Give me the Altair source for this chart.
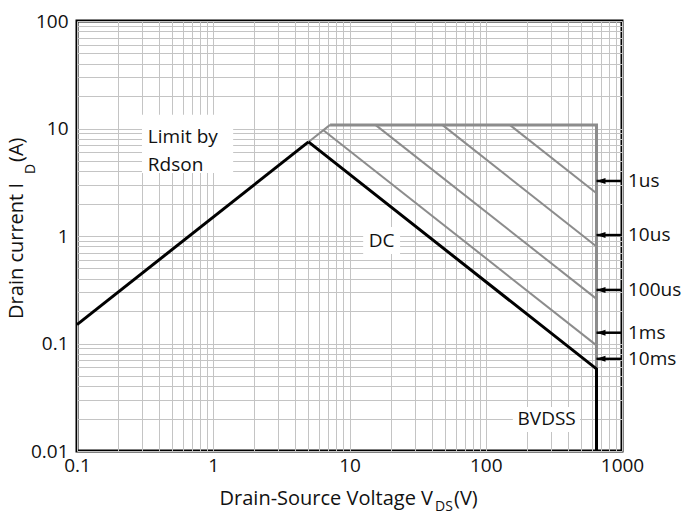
import altair as alt
import pandas as pd

FONT = "Open Sans"
TXT = "#111111"
GRAY = "#8c8c8c"

# ---- data ----
x_ticks = [0.1, 1, 10, 100, 1000]
y_ticks = [0.01, 0.1, 1, 10, 100]

# Rdson limit (black part then gray continuation)
rdson_v = [0.1, 5.0]
rdson_i = [0.15, 7.5]
rdson_gray_v = [5.0, 7.2]
rdson_gray_i = [7.5, 10.8]

# current limit / BVDSS envelope (gray, thick)
env_v = [7.2, 650, 650]
env_i = [10.8, 10.8, 0.058]

# pulse lines
pulse_names = ["1us", "10us", "100us", "1ms"]
pulse_start_v = [150, 48, 15.5, 6.4]
pulse_start_i = [10.8, 10.8, 10.8, 9.7]
pulse_end_v = [650, 650, 650, 650]
pulse_end_i = [2.5, 0.8, 0.26, 0.096]

# DC line and BVDSS drop (black)
dc_v = [5.0, 650, 650]
dc_i = [7.5, 0.058, 0.01]

# right-side arrows & labels
arrow_names = ["1us", "10us", "100us", "1ms", "10ms"]
arrow_i = [3.25, 1.02, 0.315, 0.126, 0.072]
bvdss_v = 650
frame_v = 1000

# in-plot labels
lbl_text = ["Limit by", "Rdson", "DC", "BVDSS"]
lbl_v = [0.331, 0.331, 17.2, 280]
lbl_i = [8.3, 4.55, 0.90, 0.0199]
lbl_align = ["left", "left", "center", "center"]
# white boxes behind labels
box_v1 = [0.30, 12.6, 158]
box_v2 = [1.40, 23.5, 492]
box_i1 = [3.86, 0.68, 0.015]
box_i2 = [13.4, 1.21, 0.0257]

# ---- tables ----
black_rows = [("black_main", v, i) for v, i in zip(rdson_v, rdson_i)]
black_rows += [("black_dc", v, i) for v, i in zip(dc_v, dc_i)]
gray_rows = [("rg", v, i) for v, i in zip(rdson_gray_v, rdson_gray_i)]
for n, sv, si, ev, ei in zip(pulse_names, pulse_start_v, pulse_start_i, pulse_end_v, pulse_end_i):
    gray_rows.append((n, sv, si))
    gray_rows.append((n, ev, ei))
black_df = pd.DataFrame(
    [(s, v, i, k) for k, (s, v, i) in enumerate(black_rows)], columns=["seg", "v", "i", "o"]
)
gray_df = pd.DataFrame(
    [(s, v, i, k) for k, (s, v, i) in enumerate(gray_rows)], columns=["seg", "v", "i", "o"]
)
env_df = pd.DataFrame({"v": env_v, "i": env_i, "o": list(range(len(env_v)))})
arrow_df = pd.DataFrame(
    {"name": arrow_names, "i": arrow_i, "v1": [frame_v] * 5, "v2": [bvdss_v] * 5}
)
lbl_df = pd.DataFrame({"t": lbl_text, "v": lbl_v, "i": lbl_i, "a": lbl_align})
box_df = pd.DataFrame({"v1": box_v1, "v2": box_v2, "i1": box_i1, "i2": box_i2})

x_grid = [m * 10.0 ** k for k in range(-1, 3) for m in range(1, 10)] + [1000.0]
y_grid = [m * 10.0 ** k for k in range(-2, 2) for m in range(1, 10)] + [100.0]

xscale = alt.Scale(type="log", domain=[0.1, 1000], nice=False)
yscale = alt.Scale(type="log", domain=[0.01, 100], nice=False)

common_axis = dict(
    grid=True, gridColor="#c4c4c4", gridWidth=1, ticks=False, domain=False,
    labelFont=FONT, labelFontSize=19, labelColor=TXT, labelOverlap=False,
    labelFlush=False, title=None,
)
xaxis = alt.Axis(values=x_grid, labelPadding=5,
                 labelExpr="indexof([0.1,1,10,100,1000], datum.value) >= 0 ? format(datum.value, '~g') : ''",
                 **common_axis)
yaxis = alt.Axis(values=y_grid, labelPadding=9,
                 labelExpr="indexof([0.01,0.1,1,10,100], datum.value) >= 0 ? format(datum.value, '~g') : ''",
                 **common_axis)

base_x = alt.X("v:Q", scale=xscale, axis=xaxis)
base_y = alt.Y("i:Q", scale=yscale, axis=yaxis)

boxes = alt.Chart(box_df).mark_rect(color="white").encode(
    x=alt.X("v1:Q", scale=xscale, axis=xaxis), x2="v2:Q",
    y=alt.Y("i1:Q", scale=yscale, axis=yaxis), y2="i2:Q",
)

gray = alt.Chart(gray_df).mark_line(color=GRAY, strokeWidth=2).encode(
    x=base_x, y=base_y, detail="seg:N", order="o:Q"
)
env = alt.Chart(env_df).mark_line(color=GRAY, strokeWidth=3).encode(
    x=base_x, y=base_y, order="o:Q"
)
black = alt.Chart(black_df).mark_line(color="black", strokeWidth=3).encode(
    x=base_x, y=base_y, detail="seg:N", order="o:Q"
)

shafts = alt.Chart(arrow_df).mark_rule(color="black", strokeWidth=2.5).encode(
    x=alt.X("v1:Q", scale=xscale, axis=xaxis), x2="v2:Q",
    y=alt.Y("i:Q", scale=yscale, axis=yaxis),
)
heads = alt.Chart(arrow_df).mark_point(
    shape="M0,0L3,-1L3,1Z", filled=True, color="black", opacity=1, size=36
).encode(
    x=alt.X("v2:Q", scale=xscale, axis=xaxis),
    y=alt.Y("i:Q", scale=yscale, axis=yaxis),
)
arrow_lbls = alt.Chart(arrow_df).mark_text(
    align="left", baseline="middle", dx=6, font=FONT, fontSize=19, color=TXT
).encode(
    x=alt.X("v1:Q", scale=xscale, axis=xaxis),
    y=alt.Y("i:Q", scale=yscale, axis=yaxis),
    text="name:N",
)

def label_layer(align):
    d = lbl_df[lbl_df["a"] == align]
    return alt.Chart(d).mark_text(
        align=align, baseline="middle", font=FONT, fontSize=19, color=TXT
    ).encode(x=base_x, y=base_y, text="t:N")

one = pd.DataFrame({"k": [0]})

def title_piece(text, x, y, size, align, angle=0):
    kw = dict(align=align, baseline="alphabetic", font=FONT, fontSize=size, color=TXT)
    if angle:
        kw["angle"] = angle
    return alt.Chart(one).mark_text(text=text, **kw).encode(
        x=alt.value(x), y=alt.value(y)
    )

titles = [
    title_piece("Drain-Source Voltage V", 356, 484, 20, "right"),
    title_piece("DS", 358, 490, 14, "left"),
    title_piece("(V)", 377, 484, 20, "left"),
    title_piece("Drain current I", -54, 162, 20, "right", 270),
    title_piece("D", -42, 153, 14, "left", 270),
    title_piece("(A)", -54, 141, 20, "left", 270),
]

chart = alt.layer(
    boxes, gray, env, black, shafts, heads, arrow_lbls,
    label_layer("left"), label_layer("center"), *titles
).properties(
    width=545, height=430,
    autosize=alt.AutoSizeParams(type="none"),
    padding={"left": 77, "top": 21, "right": 61, "bottom": 64},
    background="white",
).configure_view(stroke="black", strokeWidth=3)

chart.save("out.html", embed_options={"renderer": "svg", "actions": False})
